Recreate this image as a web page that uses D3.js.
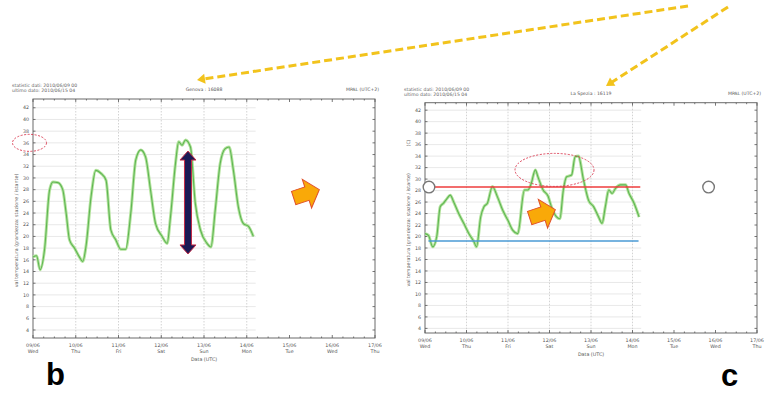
<!DOCTYPE html>
<html>
<head>
<meta charset="utf-8">
<script src="https://cdn.jsdelivr.net/npm/d3@7"></script>
<style>
  html, body { margin: 0; padding: 0; background: #fff; }
  svg { display: block; font-family: "DejaVu Sans", Arial, sans-serif; }
</style>
</head>
<body>
<div id="chart"></div>
<script>
// Two station temperature plots (b: Genova, c: La Spezia), June 2010

// x tick labels: one per day, hours counted from 09/06 00:00
const dayLabels = ['09/06', '10/06', '11/06', '12/06', '13/06', '14/06', '15/06', '16/06', '17/06'];
const weekDays = ['Wed', 'Thu', 'Fri', 'Sat', 'Sun', 'Mon', 'Tue', 'Wed', 'Thu'];
const yTickValues = [4, 6, 8, 10, 12, 14, 16, 18, 20, 22, 24, 26, 28, 30, 32, 34, 36, 38, 40, 42];

// panel b - Genova
const genovaHours = [0, 2, 4, 6.5, 9.3, 11.2, 14, 16.7, 18.6, 20.5, 23.3, 26, 27.9, 29.8, 32.6, 35.3, 38.1, 41,
    43.7, 46.5, 49.3, 52, 54.9, 57.7, 60.5, 63.2, 66, 68.8, 72.5, 75.3, 77.2, 80, 81.8, 83.7, 85.6, 88.4,
    91.1, 94, 97.7, 99.9, 102.3, 105.1, 107.9, 110.1, 112.5, 115.3, 118.1, 121, 123.7];
const genovaTemp = [16.5, 16.7, 14.3, 17.8, 27.9, 29.3, 29.2, 28, 24, 19.4, 18, 16.5, 15.7, 18.4, 26.8, 31.3, 30.8, 29.6,
    21.1, 19.4, 17.8, 17.8, 24, 33.1, 34.8, 33.6, 27.9, 22.2, 20, 18.8, 23.4, 32.5, 36.2, 35.6, 36.5, 35.3,
    25.7, 21.1, 18.8, 18.2, 24.5, 32.5, 35, 35.3, 31.3, 25, 22.2, 21.7, 20];

// panel c - La Spezia
const speziaHours = [0, 2, 4.5, 6.8, 8.8, 10.7, 12.7, 14.6, 16.6, 19.5, 22.4, 25.4, 28.3, 29.8, 32.2, 34.1, 36.1, 39,
    41.9, 44.9, 47.8, 50.7, 53.6, 57.5, 59.5, 61.4, 63.8, 65.3, 68.3, 71.2, 73.1, 76.1, 78, 80, 81.9, 84.8,
    86.8, 88.7, 91.7, 94.6, 97.5, 100.4, 102.4, 104.3, 106.3, 108.2, 110.2, 113.1, 116, 118, 120.9, 123.8];
const speziaTemp = [20.5, 20.2, 18.2, 20, 25.2, 25.8, 26.6, 27.2, 26, 24, 22.3, 20.5, 19.1, 18.2, 23.4, 25.2, 25.8, 28.7,
    26.9, 24.6, 22.9, 21.1, 20.5, 28.1, 28.1, 29.2, 31.6, 30.4, 28.1, 27, 25.2, 23.4, 23.1, 28.1, 30.4, 30.7,
    33.9, 34, 29.8, 26.3, 25.2, 23.4, 22.3, 25.2, 28.1, 27.5, 28.4, 29, 29, 27.5, 25.8, 23.4];
const speziaUpper = 28.6; // red line
const speziaLower = 19.2; // blue line

const W = 774, H = 394;
const svg = d3.select('#chart').append('svg').attr('width', W).attr('height', H);

const orangeArrow = 'M-13,-7 L1,-7 L1,-15 L14,0 L1,15 L1,7 L-13,7 Z';

function drawPanel(p) {
    const x = d3.scaleLinear().domain([0, 192]).range([p.left, p.right]);
    const y = d3.scaleLinear().domain(p.yDomain).range([p.bottom, p.top]);
    const g = svg.append('g');
    const gridEnd = x(125);

    // grid (only where there is data)
    g.selectAll('line.hgrid').data(yTickValues).join('line')
        .attr('x1', p.left).attr('x2', gridEnd)
        .attr('y1', d => y(d)).attr('y2', d => y(d))
        .attr('stroke', '#e2e2e2').attr('stroke-width', 0.8);
    g.selectAll('line.vgrid').data(dayLabels.slice(1, 6)).join('line')
        .attr('x1', (d, i) => x((i + 1) * 24)).attr('x2', (d, i) => x((i + 1) * 24))
        .attr('y1', p.top).attr('y2', p.bottom)
        .attr('stroke', '#c8c8c8').attr('stroke-width', 0.8).attr('stroke-dasharray', '1.5,1.5');

    // frame + ticks
    g.append('rect')
        .attr('x', p.left).attr('y', p.top)
        .attr('width', p.right - p.left).attr('height', p.bottom - p.top)
        .attr('fill', 'none').attr('stroke', '#6a6a6a').attr('stroke-width', 1);
    const minor = d3.range(0, 193, 6);
    [p.top, p.bottom].forEach((yy, k) => {
        const dir = k === 0 ? 1 : -1;
        g.append('g').selectAll('line').data(minor).join('line')
            .attr('x1', d => x(d)).attr('x2', d => x(d))
            .attr('y1', yy).attr('y2', d => yy + dir * (d % 24 === 0 ? 3 : 1.5))
            .attr('stroke', '#555').attr('stroke-width', 0.8);
    });
    [p.left, p.right].forEach((xx, k) => {
        const dir = k === 0 ? 1 : -1;
        g.append('g').selectAll('line').data(yTickValues).join('line')
            .attr('x1', xx).attr('x2', xx + dir * 2.5)
            .attr('y1', d => y(d)).attr('y2', d => y(d))
            .attr('stroke', '#555').attr('stroke-width', 0.8);
    });

    // tick labels
    g.append('g').selectAll('text').data(yTickValues).join('text')
        .attr('x', p.left - 4).attr('y', d => y(d) + 1.7)
        .attr('text-anchor', 'end').attr('font-size', 4.8).attr('fill', '#555')
        .text(d => d);
    const xl = g.append('g').selectAll('text').data(dayLabels).join('text')
        .attr('text-anchor', 'middle').attr('font-size', 4.8).attr('fill', '#555');
    xl.append('tspan').attr('x', (d, i) => x(i * 24)).attr('y', p.bottom + 9).text(d => d);
    xl.append('tspan').attr('x', (d, i) => x(i * 24)).attr('y', p.bottom + 15).text((d, i) => weekDays[i]);

    g.append('text')
        .attr('x', (p.left + p.right) / 2).attr('y', p.bottom + 23)
        .attr('text-anchor', 'middle').attr('font-size', 4.8).attr('fill', '#555')
        .text('Data (UTC)');
    g.append('text')
        .attr('transform', `translate(${p.left - 15},${(p.top + p.bottom) / 2 + 12}) rotate(-90)`)
        .attr('text-anchor', 'middle').attr('font-size', 4.8).attr('fill', '#666')
        .text('val temperatura (grandezza: stazione / istante)');

    // header
    g.append('text').attr('x', p.left - 21).attr('y', p.top - 12)
        .attr('font-size', 4.6).attr('fill', '#666').text('statistic dati: 2010/06/09 00');
    g.append('text').attr('x', p.left - 21).attr('y', p.top - 7)
        .attr('font-size', 4.6).attr('fill', '#666').text('ultimo dato: 2010/06/15 04');
    g.append('text').attr('x', (p.left + p.right) / 2).attr('y', p.top - 8)
        .attr('text-anchor', 'middle').attr('font-size', 4.6).attr('fill', '#555')
        .text(p.title);
    g.append('text').attr('x', p.right + 4).attr('y', p.top - 8)
        .attr('text-anchor', 'end').attr('font-size', 4.6).attr('fill', '#555')
        .text('MPAL (UTC+2)');

    // temperature line (double stroke, as in the original plot)
    const pts = p.hours.map((h, i) => [h, p.temp[i]]);
    const line = d3.line().x(d => x(d[0])).y(d => y(d[1])).curve(d3.curveMonotoneX);
    g.append('path').datum(pts).attr('d', line)
        .attr('fill', 'none').attr('stroke', '#b4e39e').attr('stroke-width', 3);
    g.append('path').datum(pts).attr('d', line)
        .attr('fill', 'none').attr('stroke', '#5fb653').attr('stroke-width', 1.1);

    return { x, y, g };
}

const b = drawPanel({
    left: 33, right: 375, top: 99, bottom: 338, yDomain: [2.63, 43.5],
    title: 'Genova : 16088', hours: genovaHours, temp: genovaTemp
});
const c = drawPanel({
    left: 425, right: 757, top: 102.7, bottom: 333, yDomain: [3.2, 43.3],
    title: 'La Spezia : 16119', hours: speziaHours, temp: speziaTemp
});
c.g.append('text').attr('x', 410).attr('y', 143).attr('font-size', 4.6).attr('fill', '#666')
    .attr('transform', 'rotate(-90,410,143)').attr('text-anchor', 'middle').text('(C)');

// ---- annotations, panel b
// red dashed ellipse round the 36 tick
b.g.append('ellipse')
    .attr('cx', 29.5).attr('cy', b.y(36)).attr('rx', 17).attr('ry', 8.5)
    .attr('fill', 'none').attr('stroke', '#d8344c').attr('stroke-width', 0.9).attr('stroke-dasharray', '2,1.5');

// navy double arrow over the daily range
const ax = b.x(87), aTop = b.y(34.6), aBot = b.y(17.0);
b.g.append('path')
    .attr('d', `M${ax},${aTop} L${ax + 8},${aTop + 9} L${ax + 3.5},${aTop + 9} L${ax + 3.5},${aBot - 9}
        L${ax + 8},${aBot - 9} L${ax},${aBot} L${ax - 8},${aBot - 9} L${ax - 3.5},${aBot - 9}
        L${ax - 3.5},${aTop + 9} L${ax - 8},${aTop + 9} Z`)
    .attr('fill', '#1b1a55').attr('stroke', '#c42a45').attr('stroke-width', 1);

b.g.append('path').attr('d', orangeArrow)
    .attr('transform', 'translate(306,194) rotate(-18)')
    .attr('fill', '#f9a908').attr('stroke', '#e0502a').attr('stroke-width', 1);

// ---- annotations, panel c
c.g.append('line')
    .attr('x1', c.x(0)).attr('x2', c.x(124.5))
    .attr('y1', c.y(speziaUpper)).attr('y2', c.y(speziaUpper))
    .attr('stroke', '#ee3d3d').attr('stroke-width', 1.5);
c.g.append('line')
    .attr('x1', c.x(2)).attr('x2', c.x(123.5))
    .attr('y1', c.y(speziaLower)).attr('y2', c.y(speziaLower))
    .attr('stroke', '#4a9ad4').attr('stroke-width', 1.5);
c.g.append('ellipse')
    .attr('cx', c.x(74.9)).attr('cy', c.y(31.6)).attr('rx', 39.5).attr('ry', 16.5)
    .attr('fill', 'none').attr('stroke', '#d8344c').attr('stroke-width', 0.9).attr('stroke-dasharray', '2,1.5');
[2.3, 164].forEach(h => {
    c.g.append('circle')
        .attr('cx', c.x(h)).attr('cy', c.y(speziaUpper)).attr('r', 5.8)
        .attr('fill', '#fff').attr('stroke', '#777').attr('stroke-width', 1.4);
});
c.g.append('path').attr('d', orangeArrow)
    .attr('transform', 'translate(542,214) rotate(-18)')
    .attr('fill', '#f9a908').attr('stroke', '#e0502a').attr('stroke-width', 1);

// yellow dashed pointers from the top right
const yellow = '#f2c31c';
[[688, 6, 197, 80], [728, 7, 606, 86]].forEach(([x1, y1, x2, y2]) => {
    const ang = Math.atan2(y2 - y1, x2 - x1);
    const ex = x2 - Math.cos(ang) * 6, ey = y2 - Math.sin(ang) * 6;
    svg.append('line')
        .attr('x1', x1).attr('y1', y1).attr('x2', ex).attr('y2', ey)
        .attr('stroke', yellow).attr('stroke-width', 3).attr('stroke-dasharray', '8,4');
    const deg = ang * 180 / Math.PI;
    svg.append('path').attr('d', 'M0,0 L-8,-5 L-8,5 Z')
        .attr('transform', `translate(${x2},${y2}) rotate(${deg})`)
        .attr('fill', yellow);
});

// panel letters
svg.append('text').attr('x', 46).attr('y', 385)
    .attr('font-family', '"Liberation Sans", Arial, sans-serif')
    .attr('font-weight', 'bold').attr('font-size', 31).attr('fill', '#000').text('b');
svg.append('text').attr('x', 721).attr('y', 386)
    .attr('font-family', '"Liberation Sans", Arial, sans-serif')
    .attr('font-weight', 'bold').attr('font-size', 31).attr('fill', '#000').text('c');
</script>
</body>
</html>
